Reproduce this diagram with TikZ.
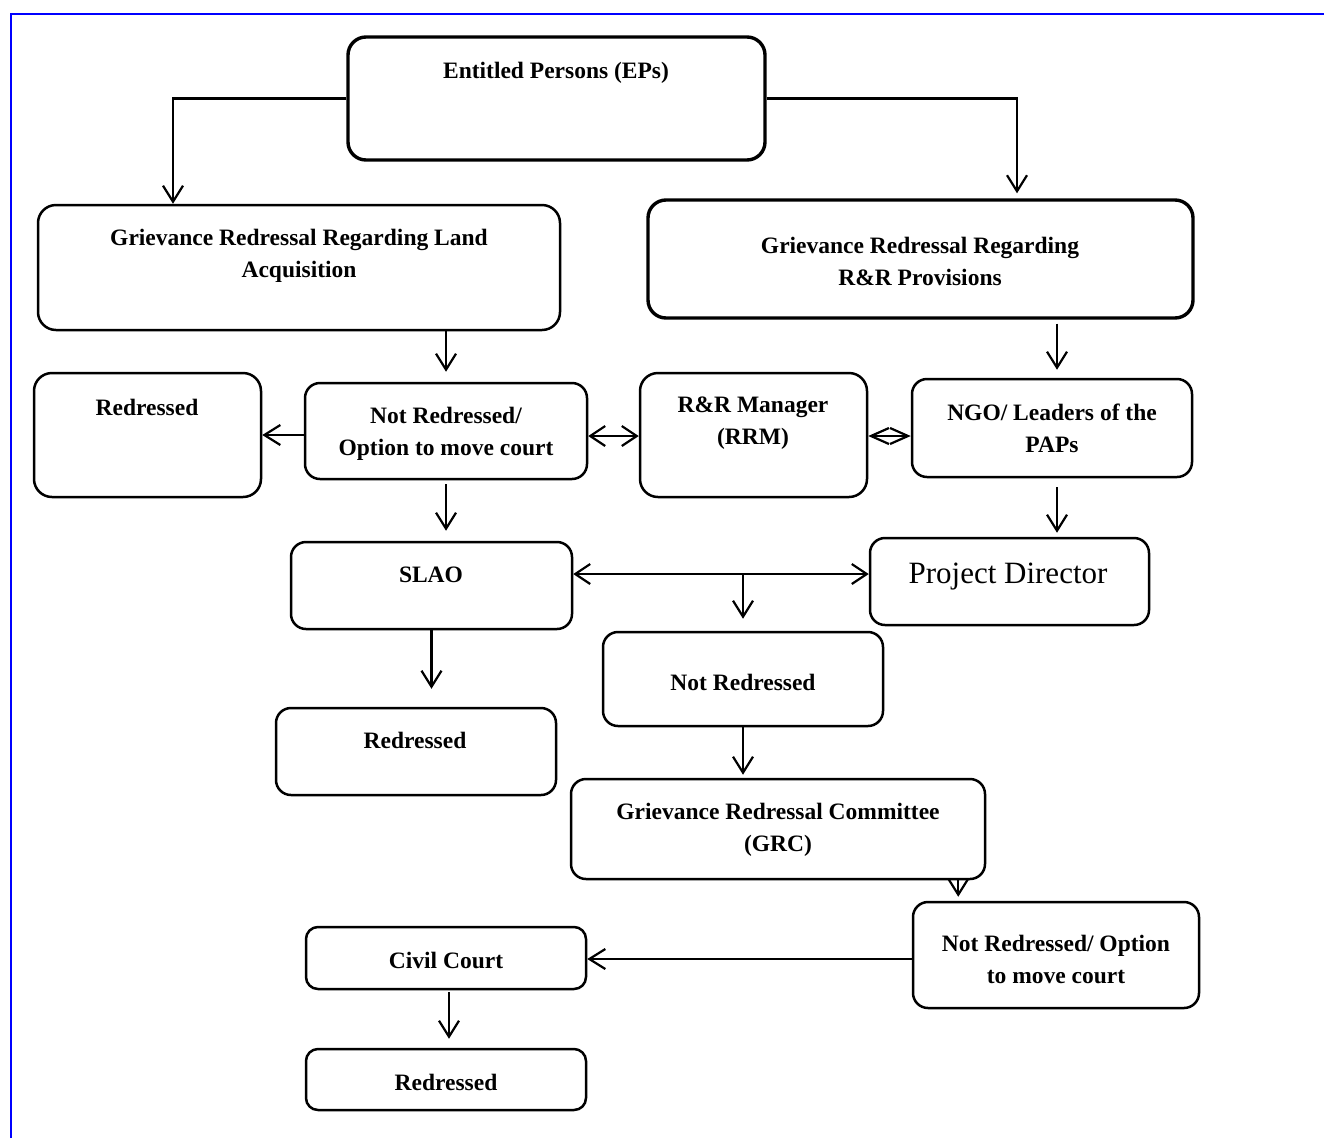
\documentclass[tikz,border=0pt]{standalone}
\usepackage{fontspec}
\setmainfont{Liberation Serif}
\usetikzlibrary{arrows.meta}
\begin{document}
\begin{tikzpicture}[x=1pt,y=-1pt,
  box/.style={draw, line width=2.5pt, rounded corners=18pt, inner sep=0pt},
  thickbox/.style={box, line width=3.4pt},
  txt/.style={align=center, inner sep=0pt, font=\fontsize{23.5}{32}\selectfont\bfseries},
  arr/.style={line width=2.2pt, -{Straight Barb[length=16pt,width=20pt,line width=2.2pt]}},
  darr/.style={line width=2.2pt, {Straight Barb[length=15pt,width=20pt,line width=2.2pt]}-{Straight Barb[length=15pt,width=20pt,line width=2.2pt]}},
  sarr/.style={line width=2.2pt, {Straight Barb[length=18pt,width=16pt,line width=2.2pt]}-{Straight Barb[length=18pt,width=16pt,line width=2.2pt]}}
]
\useasboundingbox (0,0) rectangle (1324,1138);
\draw[blue, line width=2pt] (10.5,1138) -- (10.5,13.5) -- (1324,13.5);

% boxes
\node[thickbox, minimum width=417pt, minimum height=123pt] (ep) at (556.5,98.5) {};
\node[box, minimum width=522pt, minimum height=125pt] (grl) at (299,267.5) {};
\node[thickbox, minimum width=545pt, minimum height=118pt] (grr) at (920.5,259) {};
\node[box, minimum width=227pt, minimum height=124pt] (red1) at (147.5,435) {};
\node[box, minimum width=282pt, minimum height=96pt, rounded corners=15pt] (nr1) at (446,431) {};
\node[box, minimum width=227pt, minimum height=124pt] (rrm) at (753.5,435) {};
\node[box, minimum width=280pt, minimum height=98pt, rounded corners=15pt] (ngo) at (1052,428) {};
\node[box, minimum width=281pt, minimum height=87pt, rounded corners=15pt] (slao) at (431.5,585.5) {};
\node[box, minimum width=279pt, minimum height=87pt, rounded corners=15pt] (pd) at (1009.5,581.5) {};
\node[box, minimum width=280pt, minimum height=94pt, rounded corners=15pt] (nr2) at (743,679) {};
\node[box, minimum width=280pt, minimum height=87pt, rounded corners=15pt] (red2) at (416,751.5) {};
\node[box, minimum width=414pt, minimum height=100pt, rounded corners=15pt] (grc) at (778,829) {};
\node[box, minimum width=286pt, minimum height=106pt, rounded corners=15pt] (nr3) at (1056,955) {};
\node[box, minimum width=280pt, minimum height=62pt, rounded corners=12pt] (cc) at (446,958) {};
\node[box, minimum width=280pt, minimum height=61pt, rounded corners=12pt] (red3) at (446,1079.5) {};

% texts
\node[txt] (ept) at (556,73) {Entitled Persons (EPs)};
\node[txt] (grlt) at (299,256) {Grievance Redressal Regarding Land\\Acquisition};
\node[txt] (grrt) at (920,261) {Grievance Redressal Regarding\\R\&R Provisions};
\node[txt] (red1t) at (147,407) {Redressed};
\node[txt] (nr1t) at (446,434) {Not Redressed/\\Option to move court};
\node[txt] (rrmt) at (753,423) {R\&R Manager\\(RRM)};
\node[txt] (ngot) at (1052,428) {NGO/ Leaders of the\\PAPs};
\node[txt] (slaot) at (431,575) {SLAO};
\node[align=center, inner sep=0pt, font=\fontsize{31}{36}\selectfont] (pdt) at (1008,577) {Project Director};
\node[txt] (nr2t) at (743,682) {Not Redressed};
\node[txt] (red2t) at (415,740) {Redressed};
\node[txt] (grct) at (778,830) {Grievance Redressal Committee\\(GRC)};
\node[txt] (nr3t) at (1056,959) {Not Redressed/ Option\\to move court};
\node[txt] (cct) at (446,960) {Civil Court};
\node[txt] (red3t) at (446,1082) {Redressed};

% connectors (yshift is in canvas units: positive = up on the page)
\draw[arr] (ep.west) -| ([xshift=-126pt]grl.north);
\draw[arr] (ep.east) -| ([xshift=96.5pt,yshift=5pt]grr.north);
\draw[arr] (nr1.north |- grl.south) -- ([yshift=10pt]nr1.north);
\draw[arr] ([xshift=5pt,yshift=-4pt]ngo.north |- grr.south) -- ([xshift=5pt,yshift=8pt]ngo.north);
\draw[arr] ([yshift=-4pt]nr1.west) -- ([yshift=-4pt]nr1.west -| red1.east);
\draw[darr] ([yshift=-5pt]nr1.east) -- ([yshift=-5pt]nr1.east -| rrm.west);
\draw[sarr] ([yshift=-1pt]rrm.east) -- ([yshift=-1pt]rrm.east -| ngo.west);
\draw[arr] ([yshift=-4pt]nr1.south) -- ([yshift=10pt]nr1.south |- slao.north);
\draw[arr] ([xshift=5pt,yshift=-9pt]ngo.south) -- ([xshift=5pt,yshift=4pt]ngo.south |- pd.north);
\coordinate (mid) at (743,574);
\draw[darr] (slao.east |- mid) -- (pd.west |- mid);
\draw[arr] (mid) -- ([yshift=12pt]nr2.north);
\draw[arr] (slao.south) -- ([yshift=18pt]slao.south |- red2.north);
\draw[arr] (nr2.south) -- ([yshift=3pt]nr2.south |- grc.north);
\draw[arr] ([xshift=-28pt]grc.south east) -- ([xshift=-28pt,yshift=4pt]grc.south east |- nr3.north);
\draw[arr] ([yshift=-4pt]nr3.west) -- ([yshift=-4pt]nr3.west -| cc.east);
\draw[arr] ([xshift=3pt,yshift=-2pt]cc.south) -- ([xshift=3pt,yshift=9pt]red3.north);
\end{tikzpicture}
\end{document}
